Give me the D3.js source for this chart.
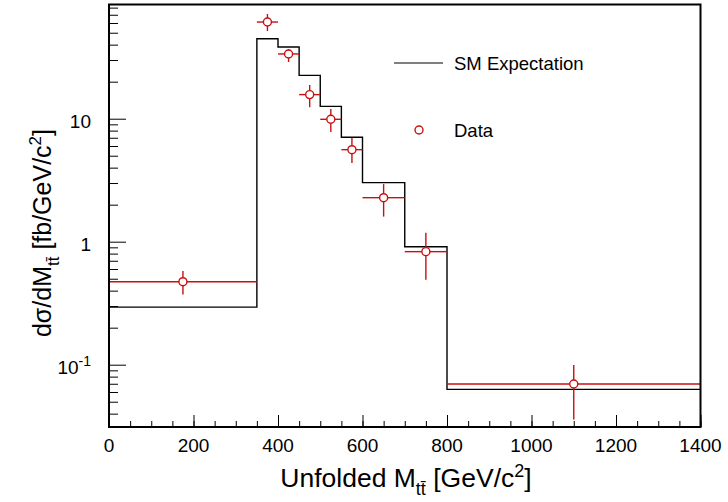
<!DOCTYPE html>
<html>
<head>
<meta charset="utf-8">
<script src="https://cdn.jsdelivr.net/npm/d3@7"></script>
<style>
  html, body { margin: 0; padding: 0; background: #fff; }
  svg { display: block; font-family: "Liberation Sans", Arial, Helvetica, sans-serif; }
</style>
</head>
<body>
<svg id="chart" width="728" height="502"></svg>
<script>
// Unfolded top-pair invariant mass spectrum
const binEdges   = [0, 350, 400, 450, 500, 550, 600, 700, 800, 1400];
const smValues   = [0.294, 44.7, 38.3, 22.5, 12.6, 7.06, 3.02, 0.91, 0.063];
const dataValues = [0.473, 61.1, 33.6, 15.7, 9.89, 5.6, 2.28, 0.83, 0.0697];
const dataHigh   = [0.578, 71.0, 36.9, 18.8, 12.0, 6.96, 2.94, 1.18, 0.0995];
const dataLow    = [0.373, 51.6, 28.9, 12.4, 7.8, 4.36, 1.6, 0.49, 0.0358];
const xTickValues = [0, 200, 400, 600, 800, 1000, 1200, 1400];
const yMajorTicks = [0.1, 1, 10];
const yMajorLabels = [["10", "-1"], ["1", ""], ["10", ""]];
const legendLabels = ["SM Expectation", "Data"];

const svg = d3.select("#chart");
const frameL = 109, frameR = 700.5, frameT = 4.5, frameB = 427;
const red = "#c81010";

const x = d3.scaleLinear().domain([0, 1400]).range([frameL, frameR]);
const y = d3.scaleLog().domain([Math.pow(10, -1.5065), Math.pow(10, 1.9285)]).range([frameB, frameT]);

// x ticks (inside the frame)
const xMinor = d3.range(0, 1401, 50);
svg.append("g").attr("transform", `translate(0,${frameB})`)
  .call(d3.axisBottom(x).tickValues(xMinor).tickSize(-6).tickFormat(""))
  .call(g => g.select(".domain").remove())
  .call(g => g.selectAll("line").attr("stroke", "#000").attr("stroke-width", 1));
svg.append("g").attr("transform", `translate(0,${frameB})`)
  .call(d3.axisBottom(x).tickValues(xTickValues).tickSize(-12).tickFormat(""))
  .call(g => g.select(".domain").remove())
  .call(g => g.selectAll("line").attr("stroke", "#000").attr("stroke-width", 1));
svg.append("g").selectAll("text").data(xTickValues).join("text")
  .attr("x", d => x(d)).attr("y", 452).attr("text-anchor", "middle")
  .attr("font-size", 19).attr("fill", "#000").text(d => d);

// y ticks (log scale, inside the frame)
const yMinor = [];
[0.01, 0.1, 1, 10].forEach(dec => { for (let k = 2; k <= 9; k++) { const v = dec * k; if (v >= y.domain()[0] && v <= y.domain()[1]) yMinor.push(v); } });
svg.append("g").attr("transform", `translate(${frameL},0)`)
  .call(d3.axisLeft(y).tickValues(yMinor).tickSize(-9).tickFormat(""))
  .call(g => g.select(".domain").remove())
  .call(g => g.selectAll("line").attr("stroke", "#000").attr("stroke-width", 1));
svg.append("g").attr("transform", `translate(${frameL},0)`)
  .call(d3.axisLeft(y).tickValues(yMajorTicks).tickSize(-17).tickFormat(""))
  .call(g => g.select(".domain").remove())
  .call(g => g.selectAll("line").attr("stroke", "#000").attr("stroke-width", 1));
const yl = svg.append("g").selectAll("text").data(yMajorTicks).join("text")
  .attr("x", 91).attr("y", d => y(d) + 9).attr("text-anchor", "end")
  .attr("font-size", 19).attr("fill", "#000");
yl.each(function(d, i) {
  const t = d3.select(this);
  t.append("tspan").text(yMajorLabels[i][0]);
  if (yMajorLabels[i][1]) t.append("tspan").attr("dy", -8).attr("font-size", 14).text(yMajorLabels[i][1]);
});

// SM expectation histogram as a step line
let path = `M${x(binEdges[0])},${y(smValues[0])}`;
smValues.forEach((v, i) => {
  path += `V${y(v)}H${x(binEdges[i + 1])}`;
});
svg.append("path").attr("d", path).attr("fill", "none").attr("stroke", "#000").attr("stroke-width", 1.4);

// Data points with error bars
const r = 4;
const pts = binEdges.slice(0, -1).map((e, i) => ({
  lo: e, hi: binEdges[i + 1], c: (e + binEdges[i + 1]) / 2,
  v: dataValues[i], up: dataHigh[i], dn: dataLow[i]
}));
const eg = svg.append("g").attr("stroke", red).attr("stroke-width", 1.4);
pts.forEach(p => {
  const cx = x(p.c), cy = y(p.v);
  eg.append("line").attr("x1", x(p.lo)).attr("x2", cx - r).attr("y1", cy).attr("y2", cy);
  eg.append("line").attr("x1", cx + r).attr("x2", x(p.hi)).attr("y1", cy).attr("y2", cy);
  eg.append("line").attr("x1", cx).attr("x2", cx).attr("y1", y(p.up)).attr("y2", cy - r);
  eg.append("line").attr("x1", cx).attr("x2", cx).attr("y1", cy + r).attr("y2", y(p.dn));
  eg.append("circle").attr("cx", cx).attr("cy", cy).attr("r", r).attr("fill", "#fff");
});

// Frame
svg.append("rect").attr("x", frameL).attr("y", frameT).attr("width", frameR - frameL).attr("height", frameB - frameT)
  .attr("fill", "none").attr("stroke", "#000").attr("stroke-width", 2);

// Legend
svg.append("line").attr("x1", 394).attr("x2", 443).attr("y1", 63).attr("y2", 63)
  .attr("stroke", "#000").attr("stroke-width", 1.2);
svg.append("text").attr("x", 454).attr("y", 69.5).attr("font-size", 18.5).text(legendLabels[0]);
svg.append("circle").attr("cx", 419).attr("cy", 130).attr("r", r)
  .attr("fill", "#fff").attr("stroke", red).attr("stroke-width", 1.4);
svg.append("text").attr("x", 454).attr("y", 136.5).attr("font-size", 18.5).text(legendLabels[1]);

// Axis titles
const xt = svg.append("text").attr("x", 406).attr("y", 487).attr("text-anchor", "middle")
  .attr("font-size", 26.5);
xt.append("tspan").text("Unfolded M");
xt.append("tspan").attr("dy", 8).attr("font-size", 18).text("tt\u0304");
xt.append("tspan").attr("dy", -8).text(" [GeV/c");
xt.append("tspan").attr("dy", -10).attr("font-size", 18).text("2");
xt.append("tspan").attr("dy", 10).text("]");

const yt = svg.append("text").attr("transform", "translate(51,233) rotate(-90)")
  .attr("text-anchor", "middle").attr("font-size", 25);
yt.append("tspan").text("d\u03c3/dM");
yt.append("tspan").attr("dy", 8).attr("font-size", 17).text("tt\u0304");
yt.append("tspan").attr("dy", -8).text(" [fb/GeV/c");
yt.append("tspan").attr("dy", -10).attr("font-size", 17).text("2");
yt.append("tspan").attr("dy", 10).text("]");
</script>
</body>
</html>
